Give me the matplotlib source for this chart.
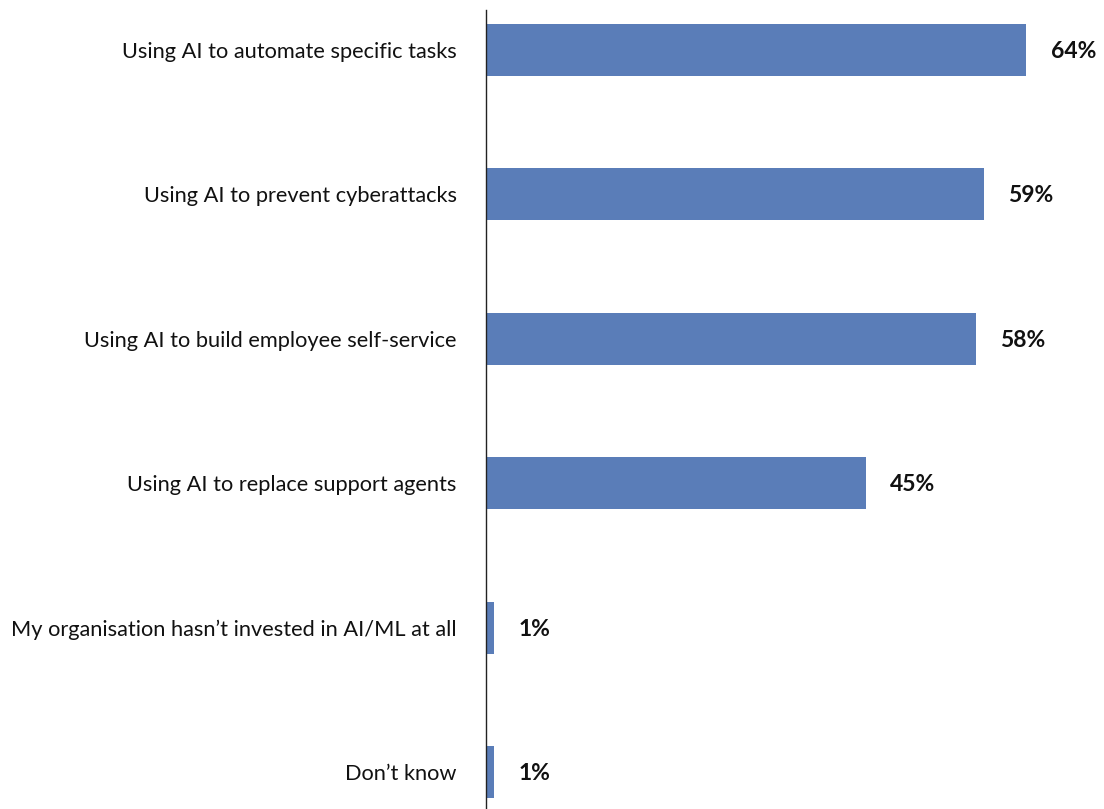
import matplotlib.pyplot as plt

categories = [
    "Using AI to automate specific tasks",
    "Using AI to prevent cyberattacks",
    "Using AI to build employee self-service",
    "Using AI to replace support agents",
    "My organisation hasn\u2019t invested in AI/ML at all",
    "Don\u2019t know",
]
values = [64, 59, 58, 45, 1, 1]
value_labels = ["64%", "59%", "58%", "45%", "1%", "1%"]

plt.rcParams['font.family'] = ['Lato', 'DejaVu Sans']

fig = plt.figure(figsize=(11.04, 8.09), dpi=100)
ax = fig.add_axes([486 / 1104, 0, 1 - 486 / 1104, 1 - 10 / 809])

pos = list(range(len(categories)))
ax.barh(pos, values, height=0.36, color="#5a7db8")

# bold percentage next to each bar end
for p, v, lab in zip(pos, values, value_labels):
    ax.annotate(lab, (v, p), xytext=(17.5, -1), textcoords="offset points",
                ha="left", va="center", fontsize=16.5, fontweight="bold",
                color="#111111")

ax.set_xlim(0, 73.2)
ax.set_ylim(5.256, -0.277)
ax.set_yticks(pos)
ax.set_yticklabels(categories, fontsize=15.7, color="#111111")
ax.tick_params(axis="y", length=0, pad=21)
for t in ax.get_yticklabels():
    t.set_y(t.get_position()[1])
ax.set_xticks([])
for s in ["top", "right", "bottom"]:
    ax.spines[s].set_visible(False)
ax.spines["left"].set_linewidth(1.0)
ax.spines["left"].set_color("#222222")

fig.savefig("out.png", dpi=100)
